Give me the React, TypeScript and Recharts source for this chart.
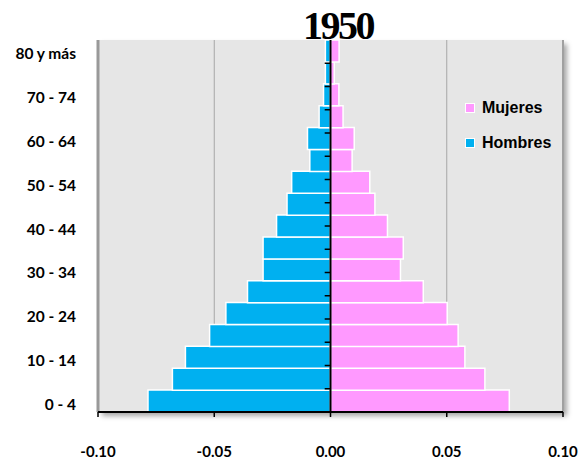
import React from 'react';
import {
  BarChart,
  Bar,
  XAxis,
  YAxis,
  CartesianGrid,
  ReferenceLine,
} from 'recharts';

const ageGroups = [
  '0 - 4', '5 - 9', '10 - 14', '15 - 19', '20 - 24', '25 - 29', '30 - 34', '35 - 39',
  '40 - 44', '45 - 49', '50 - 54', '55 - 59', '60 - 64', '65 - 69', '70 - 74', '75 - 79', '80 y más',
];

// hombres shown on the left as negative shares
const hombres = [
  -0.0785, -0.068, -0.0624, -0.052, -0.045, -0.0357, -0.029, -0.029,
  -0.0232, -0.0187, -0.0167, -0.0089, -0.0099, -0.0049, -0.003, -0.0022, -0.0022,
];

const mujeres = [
  0.0769, 0.0664, 0.0578, 0.0549, 0.0502, 0.0399, 0.0301, 0.0313,
  0.0245, 0.0191, 0.0169, 0.0093, 0.0102, 0.0054, 0.0036, 0.0016, 0.0037,
];

const xTicks = [-0.1, -0.05, 0, 0.05, 0.1];

const BLUE = '#00b0f0';
const PINK = '#ff99ff';

const data = ageGroups.map((age, i) => ({ age, hombres: hombres[i], mujeres: mujeres[i] }));
const bandEdges = ageGroups.slice(1).map((_, i) => i + 1);

const xTickFont = { fontFamily: 'Lato', fontWeight: 700, fontSize: 15, fill: '#000' };
const yTickFont = { fontFamily: 'Lato', fontWeight: 700, fontSize: 15.5, fill: '#000', dy: 3 };

const legendItems = [
  { name: 'Mujeres', color: PINK },
  { name: 'Hombres', color: BLUE },
];

const PyramidLegend = () => (
  <div
    style={{
      position: 'absolute',
      left: 465,
      top: 90,
      fontFamily: '"Liberation Sans", Arial',
      fontWeight: 700,
      fontSize: 16,
      color: '#000',
    }}
  >
    {legendItems.map((item) => (
      <div key={item.name} style={{ display: 'flex', alignItems: 'center', height: 35 }}>
        <span
          style={{
            width: 8,
            height: 8,
            background: item.color,
            border: '1px solid #fff',
            marginRight: 7,
          }}
        />
        {item.name}
      </div>
    ))}
  </div>
);

export default function App() {
  return (
    <div style={{ position: 'fixed', left: 0, top: 0, width: 585, height: 466, background: '#fff' }}>
      {/* soft shadow behind the plot frame */}
      <div
        style={{
          position: 'absolute',
          left: 98,
          top: 40,
          width: 465,
          height: 372,
          boxShadow: '4px 4px 5px rgba(0,0,0,0.35)',
        }}
      />
      <div style={{ position: 'absolute', left: 0, top: 0 }}>
        <BarChart
          width={585}
          height={466}
          data={data}
          layout="vertical"
          stackOffset="sign"
          barCategoryGap={0}
          margin={{ top: 40, right: 22, bottom: 0, left: 0 }}
        >
          <CartesianGrid horizontal={false} stroke="#a6a6a6" fill="#e6e6e6" />
          <XAxis
            type="number"
            domain={[-0.1, 0.1]}
            ticks={xTicks}
            tickFormatter={(v: number) => v.toFixed(2)}
            axisLine={{ stroke: '#000', strokeWidth: 2 }}
            tickLine={{ stroke: '#000', strokeWidth: 1.5 }}
            tickSize={5}
            tickMargin={29}
            height={54}
            tick={xTickFont}
          />
          <YAxis
            type="category"
            dataKey="age"
            reversed
            interval={1}
            axisLine={false}
            tickLine={false}
            tickSize={0}
            tickMargin={22}
            width={98}
            tick={yTickFont}
          />
          <YAxis yAxisId="num" type="number" domain={[0, ageGroups.length]} hide />
          <ReferenceLine yAxisId="num" y={ageGroups.length} stroke="#999" strokeWidth={3} />
          <ReferenceLine x={-0.1} stroke="#999" strokeWidth={3} />
          <ReferenceLine x={0.1} stroke="#a0a0a0" strokeWidth={2} />
          <Bar dataKey="hombres" stackId="p" fill={BLUE} stroke="#fff" strokeWidth={1.5} isAnimationActive={false} />
          <Bar dataKey="mujeres" stackId="p" fill={PINK} stroke="#fff" strokeWidth={1.5} isAnimationActive={false} />
          <ReferenceLine x={0} stroke="#000" strokeWidth={2} />
          {bandEdges.map((k) => (
            <ReferenceLine
              key={k}
              yAxisId="num"
              segment={[
                { x: -0.0025, y: k },
                { x: 0, y: k },
              ]}
              stroke="#000"
              strokeWidth={1.5}
            />
          ))}
        </BarChart>
      </div>
      <div
        style={{
          position: 'absolute',
          left: 338,
          top: 6,
          transform: 'translateX(-50%)',
          fontFamily: '"Liberation Serif", serif',
          fontWeight: 700,
          fontSize: 40,
          lineHeight: '40px',
          letterSpacing: -2.5,
        }}
      >
        1950
      </div>
      <PyramidLegend />
    </div>
  );
}
